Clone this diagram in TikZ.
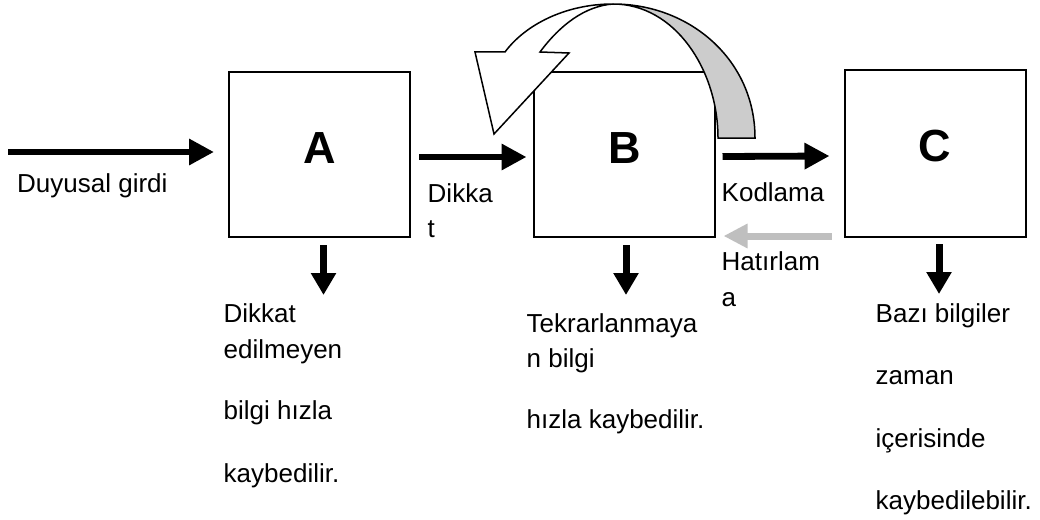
\documentclass[tikz,border=0pt]{standalone}
\usepackage{fontspec}
\setmainfont{Liberation Sans}
\usetikzlibrary{arrows.meta,calc}
\begin{document}
\begin{tikzpicture}[x=1pt,y=-1pt,
  box/.style={draw,line width=2pt,minimum width=181pt,minimum height=165pt,inner sep=0pt},
  letter/.style={font=\fontsize{45}{54}\selectfont\bfseries,inner sep=0pt,anchor=base},
  txt/.style={font=\fontsize{26}{31}\selectfont,inner sep=0pt,anchor=base west},
  bigarrow/.style={line width=6.8pt,-{Triangle[length=25pt,width=25pt]}},
  downarrow/.style={line width=7pt,-{Triangle[length=22pt,width=24pt]}},
  backarrow/.style={line width=7pt,draw=gray!50,-{Triangle[length=24pt,width=23pt]}},
  curl/.style={draw=black,line width=1.5pt,line join=miter}]
\useasboundingbox[fill=white] (0,0) rectangle (1040,519);
% boxes
\node[box] (A) at (319.5,154.5) {};
\node[box] (B) at (624,154.5) {};
\node[box,minimum height=167pt] (C) at (935,153.5) {};
\node[letter] (la) at (320,163) {A};
\node[letter] (lb) at (625,163) {B};
\node[letter] (lc) at (935,161) {C};
% curved arrow (drawn over box B)
\coordinate (X) at (613,4);
\path[curl,fill=gray!40] (755,138) -- (718,138) .. controls (718,70) and (675,4) .. (X)
   .. controls (690,4) and (755,60) .. (755,138) -- cycle;
\path[curl,fill=white] (X) .. controls (565,4) and (525,25) .. (505,52)
   -- (475,52) -- (494,134) -- (569,53) -- (540,52)
   .. controls (560,25) and (585,6) .. (X) -- cycle;
% horizontal arrows
\coordinate (in0) at (8,152);
\draw[bigarrow] (in0) -- ($(A.west)+(-14,-2.5)$);
\draw[bigarrow] ($(A.east)+(8,2.5)$) -- ($(B.west)+(-6,2.5)$);
\draw[bigarrow] ($(B.east)+(7,2)$) -- ($(C.west)+(-14,2.5)$);
\draw[backarrow] ($(C.south west)+(-12,-2)$) -- ($(B.south east)+(8,-2)$);
% down arrows
\draw[downarrow] ($(A.south)+(4,7)$) -- ++(0,50);
\draw[downarrow] ($(B.south)+(2,7)$) -- ++(0,50);
\draw[downarrow] ($(C.south)+(4,6)$) -- ++(0,50);
% labels
\node[txt] (t1) at (17,192) {Duyusal girdi};
\node[txt] (t2) at (427.5,202) {Dikka};
\node[txt] (t3) at (427.5,237) {t};
\node[txt] (t4) at (721.5,201) {Kodlama};
\node[txt] (t5) at (721.5,270) {Hatırlam};
\node[txt] (t6) at (721.5,306) {a};
\node[txt] (a1) at (223.5,322) {Dikkat};
\node[txt] (a2) at (223.5,358) {edilmeyen};
\node[txt] (a3) at (223.5,419) {bilgi hızla};
\node[txt] (a4) at (223.5,482) {kaybedilir.};
\node[txt] (b1) at (526.5,332) {Tekrarlanmaya};
\node[txt] (b2) at (526.5,367) {n bilgi};
\node[txt] (b3) at (526.5,428) {hızla kaybedilir.};
\node[txt] (c1) at (875.5,322) {Bazı bilgiler};
\node[txt] (c2) at (875.5,384) {zaman};
\node[txt] (c3) at (875.5,447) {içerisinde};
\node[txt] (c4) at (875.5,509) {kaybedilebilir.};
\end{tikzpicture}
\end{document}
